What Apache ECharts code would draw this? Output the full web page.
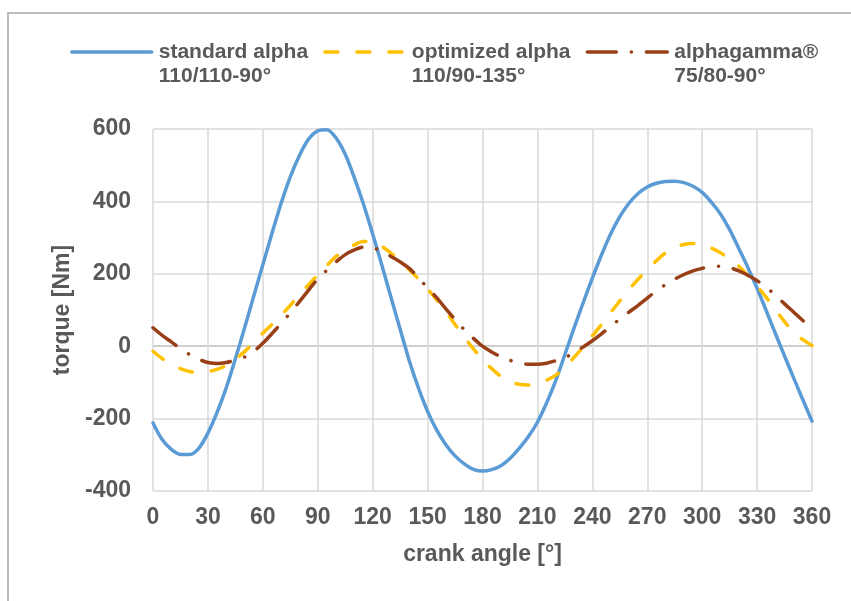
<!DOCTYPE html>
<html>
<head>
<meta charset="utf-8">
<script src="https://cdn.jsdelivr.net/npm/echarts@6/dist/echarts.min.js"></script>
<style>
  html, body { margin: 0; padding: 0; background: #ffffff; }
  #chart { width: 851px; height: 601px; }
</style>
</head>
<body>
<div id="chart"></div>
<script>
  // crank angle [°], every 5°
  var angles = []
  for (var a = 0; a <= 360; a += 5) angles.push(a)
  // torque [Nm]
  var standardAlpha = [-212, -258, -285, -299, -299, -282, -240, -183, -115, -35, 50, 138, 225, 312, 395, 468, 527, 572, 595, 598,
    575, 530, 465, 392, 310, 224, 135, 47, -40, -115, -180, -232, -272, -303, -325, -340, -345,
    -341, -330, -310, -282, -250, -210, -157, -95, -23, 50, 120, 188, 252, 310, 358, 395, 422, 440, 450, 455, 456,
    452, 442, 425, 398, 365, 322, 270, 217, 160, 98, 35, -27, -88, -148, -207]
  var optimizedAlpha = [-14, -34, -50, -62, -70, -73, -70, -64, -53, -36, -15, 10, 36, 60, 85, 113, 142, 170, 197, 223,
    248, 266, 280, 289, 289, 276, 257, 235, 211, 186, 158, 128, 96, 60, 25, -7, -37,
    -62, -83, -97, -105, -107, -103, -94, -80, -58, -31, -2, 28, 60, 93, 125, 156, 185, 211, 236, 258, 273,
    281, 284, 281, 271, 258, 241, 221, 195, 166, 135, 101, 68, 37, 18, 2]
  var alphagamma = [51, 30, 12, -7, -23, -36, -45, -48, -45, -38, -30, -14, 8, 35, 63, 92, 123, 155, 186, 210,
    233, 253, 266, 274, 272, 262, 248, 233, 215, 189, 161, 134, 103, 74, 46, 22, 0,
    -16, -29, -39, -46, -50, -50, -47, -40, -32, -17, -2, 15, 34, 55, 75, 94, 113, 133, 153, 170, 185,
    198, 208, 215, 220, 221, 217, 208, 196, 181, 163, 141, 117, 94, 71, 51]
  var seriesNames = ['standard alpha\n110/110-90°', 'optimized alpha\n110/90-135°', 'alphagamma®\n75/80-90°']
  var xTicks = [0, 360, 30]
  var yTicks = [-400, 600, 200]

  function pairs (values) {
    return angles.map(function (a, i) { return [a, values[i]] })
  }

  var textColor = '#595959'
  var font = "'Liberation Sans', Arial, sans-serif"
  var chart = echarts.init(document.getElementById('chart'))

  var option = {
    backgroundColor: '#ffffff',
    animation: false,
    graphic: [{
      type: 'polyline',
      shape: { points: [[8, 700], [8, 13], [900, 13]] },
      style: { fill: 'none', stroke: '#a6a6a6', lineWidth: 1.5 }
    }],
    legend: {
      left: 65,
      top: 11,
      itemWidth: 80,
      itemHeight: 14,
      itemGap: 15,
      itemStyle: { opacity: 0 },
      lineStyle: { width: 3.5, cap: 'round' },
      // blank first line so the key sits level with the first text line
      formatter: function (name) { return ' \n' + name },
      textStyle: {
        color: textColor,
        fontFamily: font,
        fontWeight: 'bold',
        fontSize: 21,
        lineHeight: 24,
        padding: [0, 0, 0, 2]
      },
      data: seriesNames
    },
    grid: {
      left: 153,
      right: 39,
      top: 129,
      bottom: 110
    },
    xAxis: {
      type: 'value',
      min: xTicks[0],
      max: xTicks[1],
      interval: xTicks[2],
      name: 'crank angle [°]',
      nameLocation: 'middle',
      nameGap: 52,
      nameTextStyle: { color: textColor, fontFamily: font, fontWeight: 'bold', fontSize: 23 },
      axisLine: { show: false },
      axisTick: { show: false },
      axisLabel: { color: textColor, fontFamily: font, fontWeight: 'bold', fontSize: 23, margin: 15 },
      splitLine: { show: true, lineStyle: { color: '#d9d9d9', width: 1.5 } }
    },
    yAxis: {
      type: 'value',
      min: yTicks[0],
      max: yTicks[1],
      interval: yTicks[2],
      name: 'torque [Nm]',
      nameLocation: 'middle',
      nameGap: 77,
      nameTextStyle: { color: textColor, fontFamily: font, fontWeight: 'bold', fontSize: 23 },
      axisLine: { show: false },
      axisTick: { show: false },
      axisLabel: { color: textColor, fontFamily: font, fontWeight: 'bold', fontSize: 23, margin: 22 },
      splitLine: {
        show: true,
        lineStyle: {
          // the zero line is the horizontal axis, a bit darker
          color: ['#d9d9d9', '#d9d9d9', '#bfbfbf', '#d9d9d9', '#d9d9d9', '#d9d9d9'],
          width: 1.5
        }
      }
    },
    series: [
      {
        name: seriesNames[0],
        type: 'line',
        data: pairs(standardAlpha),
        smooth: 0.3,
        symbol: 'none',
        z: 3,
        lineStyle: { color: '#5b9bd5', width: 3.5, cap: 'round' },
        itemStyle: { color: '#5b9bd5' }
      },
      {
        name: seriesNames[1],
        type: 'line',
        data: pairs(optimizedAlpha),
        smooth: 0.3,
        symbol: 'none',
        z: 4,
        lineStyle: { color: '#ffc000', width: 3.5, type: [13, 19], cap: 'round' },
        itemStyle: { color: '#ffc000' }
      },
      {
        name: seriesNames[2],
        type: 'line',
        data: pairs(alphagamma),
        smooth: 0.3,
        symbol: 'none',
        z: 5,
        lineStyle: { color: '#983f17', width: 3.5, type: [29, 15, 0.1, 15], cap: 'round' },
        itemStyle: { color: '#983f17' }
      }
    ]
  }
  chart.setOption(option)
</script>
</body>
</html>
